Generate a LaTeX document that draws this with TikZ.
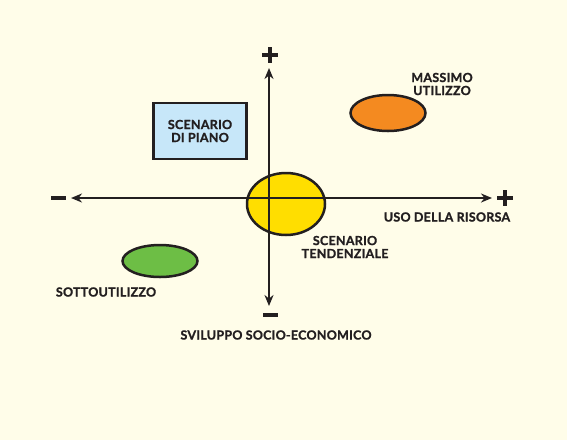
\documentclass[tikz,border=0pt]{standalone}
\usepackage{fontspec}
\setmainfont{Lato}[BoldFeatures={FakeBold=1.2, LetterSpace=2}]
\usepackage{xcolor}
\usepackage{tikz}
\usetikzlibrary{positioning,arrows.meta,shapes.geometric}

\definecolor{paper}{HTML}{FFFDE9}
\definecolor{ink}{HTML}{231F20}
\definecolor{tyellow}{HTML}{FFDE00}
\definecolor{torange}{HTML}{F48A20}
\definecolor{tgreen}{HTML}{6DBE45}
\definecolor{tblue}{HTML}{C7E7F9}

\begin{document}
\begin{tikzpicture}[
  x=1pt, y=-1pt,
  font=\bfseries\fontsize{12.5}{13}\selectfont,
  lbl/.style={text=ink, align=center, inner sep=0pt},
  blob/.style={ellipse, draw=ink, line width=2.5pt, inner sep=0pt},
  plus/.style={minimum size=16pt, inner sep=0pt, path picture={
      \fill[ink] ([xshift=-1.8pt]path picture bounding box.north) rectangle
                 ([xshift=1.8pt]path picture bounding box.south);
      \fill[ink] ([yshift=-1.8pt]path picture bounding box.west) rectangle
                 ([yshift=1.8pt]path picture bounding box.east);}},
  minus/.style={fill=ink, minimum width=15pt, minimum height=3.6pt, inner sep=0pt},
  axis/.style={{Stealth[length=11pt,width=9pt,inset=3.5pt]}-{Stealth[length=11pt,width=9pt,inset=3.5pt]},
               draw=ink, line width=2.2pt},
]
% ---- background -------------------------------------------------------
\fill[paper] (0,0) rectangle (567,440);
% ---- scenarios --------------------------------------------------------
\node[blob, fill=tyellow, minimum width=78pt, minimum height=62pt] (tend) at (286,204) {};
\node[blob, fill=torange, minimum width=75pt, minimum height=36pt] (max) at (388,113) {};
\node[blob, fill=tgreen, minimum width=75pt, minimum height=32pt] (sotto) at (160,261) {};
\node[draw=ink, line width=2.5pt, fill=tblue, minimum width=93pt, minimum height=56pt,
      lbl] (piano) at (200,131) {SCENARIO\\DI PIANO};
% ---- axes -------------------------------------------------------------
\coordinate (ytop) at (269,68);
\coordinate (ybot) at (269,306);
\coordinate (xleft) at (71,198);
\coordinate (xright) at (492,198);
\node[plus] (yplus) at (270,55) {};
\node[minus] (yminus) at (270,315) {};
\node[minus] (xminus) at (58,198) {};
\node[plus] (xplus) at (505,198) {};
\draw[axis] (ybot) -- (ytop);
\draw[axis] (xleft) -- (xright);
% ---- labels -----------------------------------------------------------
\node[lbl] (lmax) at (442,84) {MASSIMO\\UTILIZZO};
\node[lbl] (luso) at (447,217) {USO DELLA RISORSA};
\node[lbl] (ltend) at (345,247) {SCENARIO\\TENDENZIALE};
\node[lbl] (lsotto) at (106,292) {SOTTOUTILIZZO};
\node[lbl] (lsvil) at (276,335) {SVILUPPO SOCIO-ECONOMICO};
\end{tikzpicture}
\end{document}
